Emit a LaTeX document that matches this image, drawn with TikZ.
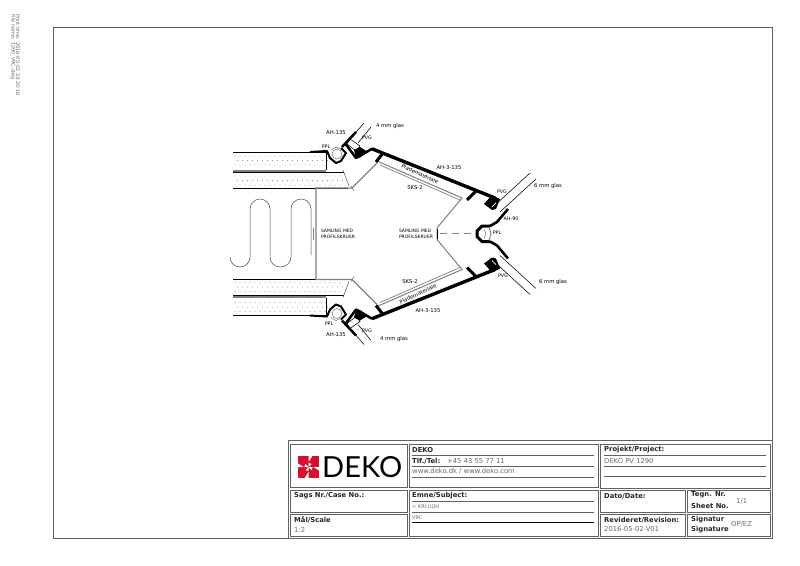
\documentclass[tikz,border=0pt]{standalone}
\usepackage{fontspec}
\setmainfont{DejaVu Sans}
\newfontfamily\logofont{Lato}
\definecolor{frm}{gray}{0.38}
\definecolor{gry}{gray}{0.5}
\definecolor{txtg}{gray}{0.42}
\definecolor{dekored}{HTML}{D3112F}
\newcommand{\cad}{\fontsize{5.3}{5.8}\selectfont}
\newcommand{\cadmd}{\fontsize{4.8}{5.6}\selectfont}
\newcommand{\cadsm}{\fontsize{4.5}{5.6}\selectfont}
\newcommand{\tb}{\fontsize{6.8}{7.5}\selectfont}
\tikzset{
 x=1pt,y=-1pt,
 thin line/.style={line width=0.55pt,black},
 heavy/.style={line width=2.6pt,black,line join=round},
 sheet/.style={line width=0.9pt,gry},
 cadlabel/.style={font=\cad,inner sep=0pt,text=black},
 cadshort/.style={font=\cadmd,inner sep=0pt,text=black},
 tbh/.style={font=\tb\bfseries,anchor=west,inner sep=0pt,text=black!85},
 tbt/.style={font=\tb,anchor=west,inner sep=0pt,text=txtg},
 tbox/.style={draw=frm,line width=0.9pt},
 tline/.style={draw=frm,line width=0.8pt},
}
\newcommand{\halfprofile}{%
 % panels
 \draw[line width=0.8pt] (233,152) -- (326,152) -- (326,170);
 \fill[gry] (233,170) rectangle (326,172);
 \draw[line width=0.7pt] (233,172) -- (344,172) (348,188) -- (233,188);
 \foreach \yy/\xs in {156/0,160.5/2.5,165/0}{\foreach \xx in {0,...,18}{\fill[black!65] ({235+\xx*5+\xs},\yy) circle (0.35);}}
 \foreach \yy/\xs in {176/0,180.5/2.5,185/0}{\foreach \xx in {0,...,21}{\fill[black!65] ({235+\xx*5+\xs},\yy) circle (0.35);}}
 % ticks
 \draw[thin line,black!60] (343,170) -- (349,186);
 \draw[thin line,black!60] (351,186) -- (354,191);
 % gray profile
 \draw[sheet,line width=1.2pt] (316,234) -- (316,188) -- (352,188) -- (377,163);
 % SKS-2 double line
 \draw[gry,line width=1pt] (377,161) -- (462,198) -- (437,228) -- (437,234);
 \draw[gry,line width=0.7pt] (380,165) -- (461,200.5);
 % main black
 \draw[heavy,line width=3.4pt] (372,148.8) -- (495,198);
 \draw[heavy,line width=3pt] (376,162) -- (383,153);
 \draw[heavy,line width=3pt] (467,200) -- (476,191);
 % left PPL gasket
 \draw[heavy,line width=2pt] (310,152) -- (327,151) -- (330,158) -- (336,163) -- (341,161) -- (346,153) -- (341,148);
 \draw[gry,line width=0.6pt] (337,154) circle (5);
 \draw[gry,line width=0.6pt] (331,150) -- (336,147) -- (341,149);
 % AH-135 and PVG block left
 \draw[heavy,line width=2.5pt] (342,147) -- (356,132);
 \draw[heavy,line width=2.5pt] (345,143) -- (356,158) -- (372,148.8);
 \fill[black] (354,150) -- (360,147) -- (368,152) -- (360,157.5) -- (356,158) -- cycle;
 \draw[thin line] (351,138) -- (364,123);
 \draw[thin line] (358,143) -- (371,127);
 \draw[thin line] (350,139) -- (360,146) -- (356,151) -- (347,144) -- cycle;
 % right PVG block
 \fill[black] (484,204) -- (492,195) -- (500,199) -- (496,209) -- (492,210) -- cycle;
 \draw[white,line width=1pt] (492,207) -- (496,203);
 \draw[thin line] (493,207) -- (530,173);
 \draw[thin line] (500,212) -- (536,179);
 \draw[heavy,line width=2.6pt] (508,209) -- (497,222) -- (490,226);
 \draw[heavy,line width=3pt] (490,226) -- (482,226) -- (477,231) -- (477,234);
 \draw[gry,line width=0.9pt] (489,227) -- (491,234);
 \draw[gry,line width=0.5pt] (484,229) -- (486,234);
}
\begin{document}
\begin{tikzpicture}
\useasboundingbox (0,0) rectangle (800,565);
\fill[white] (0,0) rectangle (800,565);
% sheet frame
\draw[frm,line width=0.8pt] (53,27) rectangle (772,538);
% print info
\node[rotate=-90,font=\fontsize{5}{5}\selectfont,text=txtg,anchor=west,inner sep=0pt] (printtime) at (18,14) {Print time: 2016-05-02 23:20:16};
\node[rotate=-90,font=\fontsize{5}{5}\selectfont,text=txtg,anchor=west,inner sep=0pt] (filename) at (13,14) {File name: 1290\_V9C.dwg};
% drawing
\halfprofile
\begin{scope}[yshift=-467.5pt,yscale=-1]
\halfprofile
\end{scope}
% centre
\draw[gry,line width=0.7pt,dash pattern=on 7pt off 5pt] (440,233.7) -- (476,233.7);
\draw[black,line width=1pt] (437,229) -- (437,239);
\draw[gry,line width=0.9pt] (313,228) -- (313,240);
% serpentine
\draw[black!70,line width=0.5pt] (230,257) .. controls (230,262.5) and (234.5,267) .. (240,267) .. controls (245.5,267) and (250,262.5) .. (250,257)
  -- (250,209) .. controls (250,203.5) and (254.5,199) .. (260,199) .. controls (265.5,199) and (270,203.5) .. (270,209)
  -- (270,257) .. controls (270,262.5) and (274.5,267) .. (280.5,267) .. controls (286.5,267) and (291,262.5) .. (291,257)
  -- (291,209) .. controls (291,203.5) and (295.5,199) .. (301,199) .. controls (306.5,199) and (311,203.5) .. (311,209)
  -- (311,255);
% labels
\node[cadlabel] (l1) at (336,133) {AH-135};
\node[cadlabel] (l2) at (390,126) {4 mm glas};
\node[cadshort] (l3) at (367,137.5) {PVG};
\node[cadshort] (l4) at (326,147) {PPL};
\node[cadlabel] (l5) at (449,168) {AH-3-135};
\node[cadlabel,rotate=-25] (l6) at (420,174) {Pladematerlale};
\node[cadlabel] (l7) at (415,188) {SKS-2};
\node[cadshort] (l8) at (502,192) {PVG};
\node[cadlabel] (l9) at (548,186) {6 mm glas};
\node[cadshort] (l10) at (511,219) {AH-90};
\node[cadshort] (l11) at (497,233) {PPL};
\node[cadlabel,font=\cadsm,align=left] (l12) at (338,234) {SAMLING MED\\PROFILSKRUER};
\node[cadlabel,font=\cadsm,align=left] (l13) at (416,234) {SAMLING MED\\PROFILSKRUER};
\node[cadshort] (l14) at (329,324) {PPL};
\node[cadlabel] (l15) at (336,335) {AH-135};
\node[cadshort] (l16) at (367,331) {PVG};
\node[cadlabel] (l17) at (394,339) {4 mm glas};
\node[cadlabel] (l18) at (410,282) {SKS-2};
\node[cadlabel,rotate=25] (l19) at (418,294) {Pladematerlale};
\node[cadlabel] (l20) at (428,311) {AH-3-135};
\node[cadshort] (l21) at (503,276) {PVG};
\node[cadlabel] (l22) at (553,282) {6 mm glas};
% title block
\draw[tbox] (288,440) -- (772,440);
\draw[tbox] (288,440) -- (288,538);
\foreach \a/\b/\c/\d in {290/444/407/487, 290/490/407/512, 290/514/407/536, 409/444/598/487, 409/490/598/536, 600/444/770/488, 600/490/685/512, 687/490/770/512, 600/514/685/536, 687/514/770/536}{
 \draw[tbox] (\a,\b) rectangle (\c,\d);
}
\foreach \yy in {455,466,477,501,512}{\draw[tline] (412,\yy) -- (594,\yy);}
\draw[black,line width=0.8pt] (412,522) -- (594,522);
\foreach \yy in {455,466,476}{\draw[tline] (604,\yy) -- (766,\yy);}
\node[tbh] (t1) at (412,450.5) {DEKO};
\node[tbh] (t2) at (412,461) {Tlf./Tel:};
\node[tbt] (t3) at (447,461) {+45 43 55 77 11};
\node[tbt] (t4) at (412,471) {www.deko.dk / www.deko.com};
\node[tbh] (t5) at (294,496) {Sags Nr./Case No.:};
\node[tbh] (t6) at (294,520) {Mål/Scale};
\node[tbt] (t7) at (294,530) {1:2};
\node[tbh] (t8) at (412,496) {Emne/Subject:};
\node[tbt,font=\fontsize{5}{6}\selectfont] (t9) at (412,507) {< KRI:UQH};
\node[tbt,font=\fontsize{5}{6}\selectfont] (t10) at (412,518) {V9C};
\node[tbh] (t11) at (604,450) {Projekt/Project:};
\node[tbt] (t12) at (604,461) {DEKO PV 1290};
\node[tbh] (t13) at (604,496) {Dato/Date:};
\node[tbh] (t14) at (691,495) {Tegn. Nr.};
\node[tbh] (t15) at (691,506) {Sheet No.};
\node[tbt] (t16) at (736,501) {1/1};
\node[tbh] (t17) at (604,520) {Revideret/Revision:};
\node[tbt] (t18) at (604,529.5) {2016-05-02-V01};
\node[tbh] (t19) at (691,520) {Signatur};
\node[tbh] (t20) at (691,529.5) {Signature};
\node[tbt] (t21) at (731,524) {OP/EZ};
% logo
\fill[dekored] (298,456) rectangle (319,478);
\foreach \r in {0,90,180,270}{
 \fill[white,shift={(308.5,467)},rotate=\r] (0,-11.2) -- (4,-11.2) -- (0,-5) -- cycle;
 \fill[white,shift={(308.5,467)},rotate=\r] (0,0) -- (3,-3) -- (0,-4.2) -- cycle;
}
\node[font=\logofont\fontsize{29}{30}\selectfont,anchor=west,inner sep=0pt,text=black] (logo) at (322,467) {DEKO};
\end{tikzpicture}
\end{document}
